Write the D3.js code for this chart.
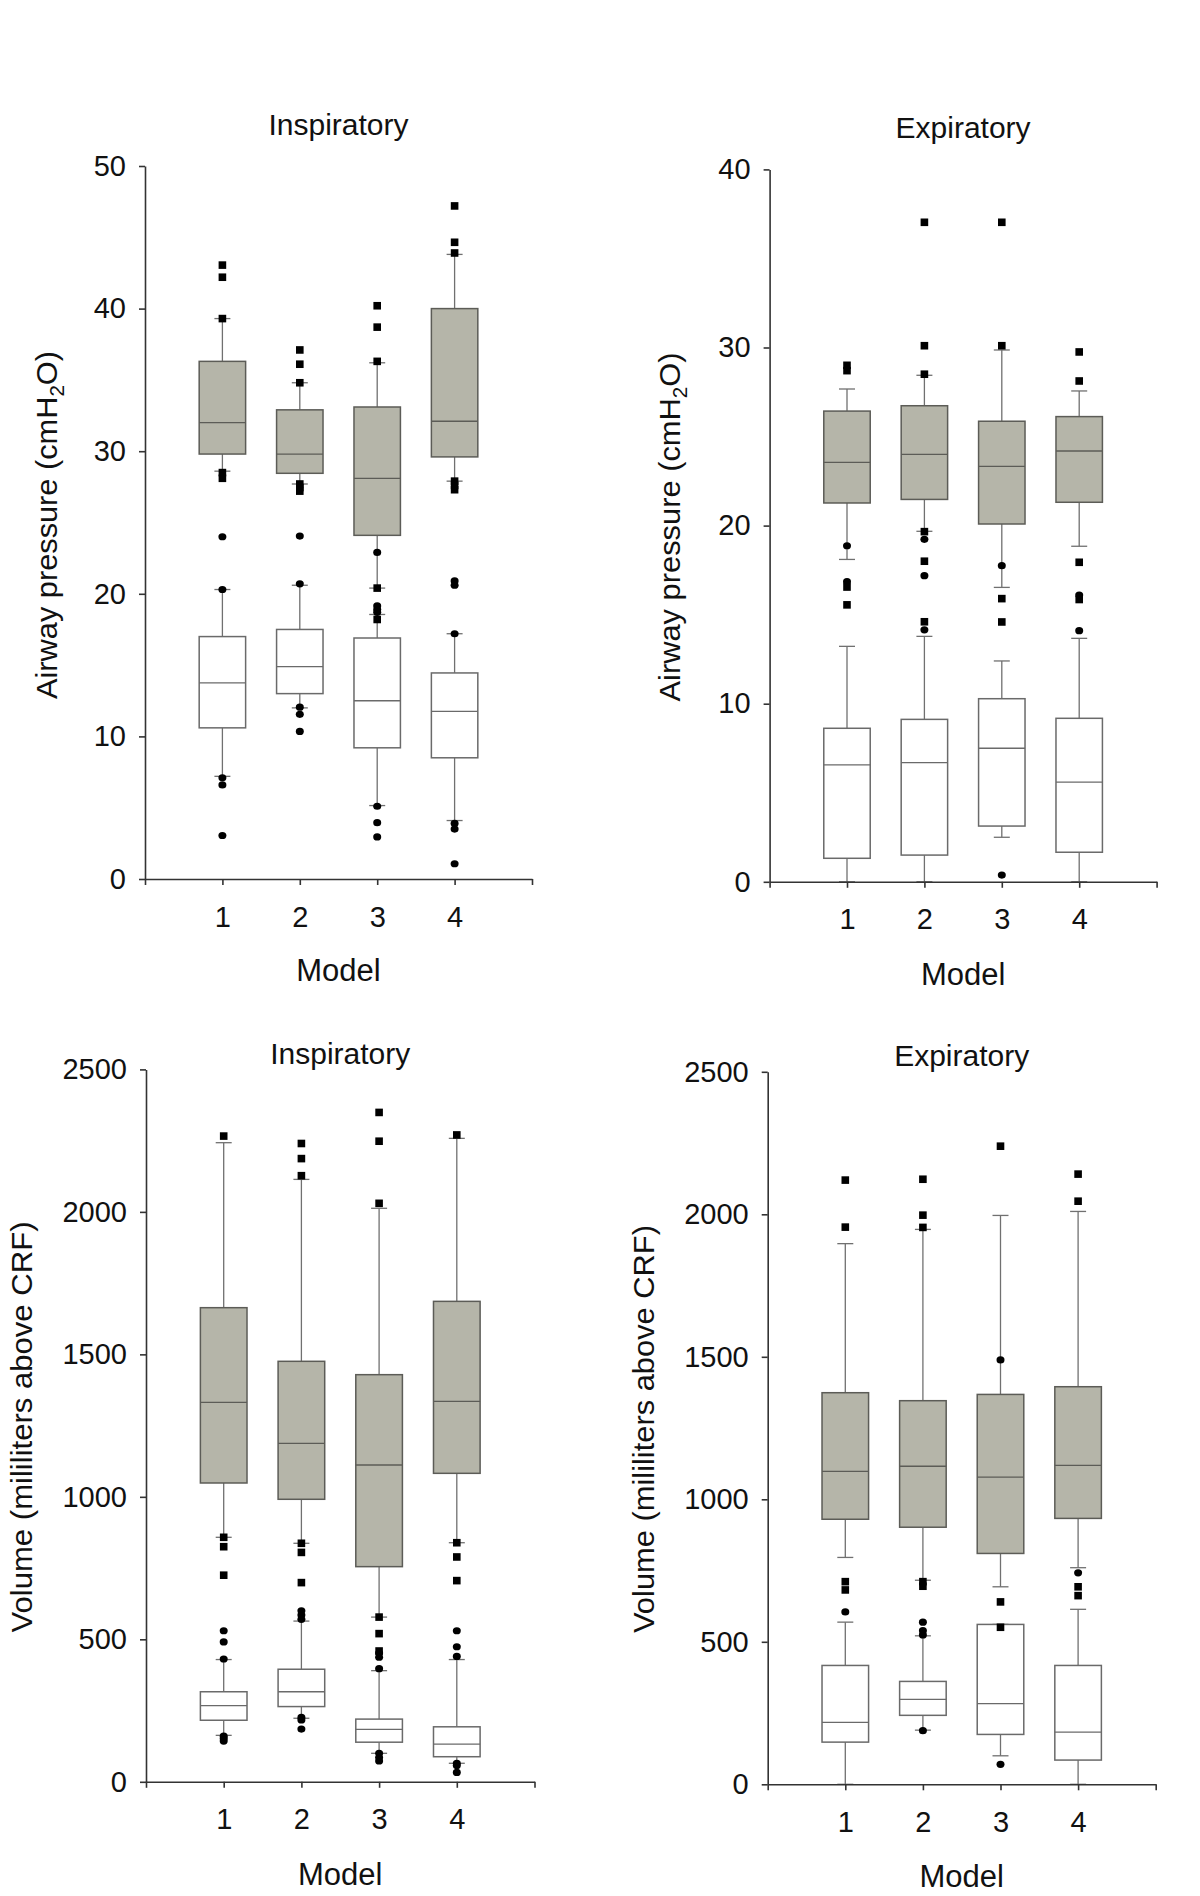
<!DOCTYPE html>
<html>
<head>
<meta charset="utf-8">
<script src="https://cdn.jsdelivr.net/npm/d3@7"></script>
<style>
  body { margin: 0; background: #fff; }
  svg text { font-family: "Liberation Sans", Arial, sans-serif; fill: #111; }
</style>
</head>
<body>
<div id="chart"></div>
<script>
/* four box plot panels: airway pressure and volume, per model */

var models = [1, 2, 3, 4];

// box stats are [lower whisker, q1, median, q3, upper whisker] for each model
// grey boxes have square outliers, white boxes have round outliers

// top left: inspiratory airway pressure
var inspPressureTicks = [0, 10, 20, 30, 40, 50];
var inspPressureGrey = [[28.6, 29.8, 32.0, 36.3, 39.3], [27.7, 28.45, 29.8, 32.9, 34.8],
                        [20.4, 24.1, 28.1, 33.1, 36.2], [27.9, 29.6, 32.1, 40.0, 43.8]];
var inspPressureGreyOut = [[43.05, 42.2, 39.3, 28.5, 28.1], [37.1, 36.1, 34.8, 27.7, 27.45, 27.2],
                           [40.2, 38.7, 36.3, 20.4, 18.2], [47.2, 44.65, 43.9, 27.9, 27.6, 27.3]];
var inspPressureWhite = [[7.2, 10.6, 13.75, 17.0, 20.3], [12.0, 13.0, 14.9, 17.5, 20.6],
                         [5.15, 9.2, 12.5, 16.9, 18.55], [4.1, 8.5, 11.75, 14.45, 17.2]];
var inspPressureWhiteOut = [[24.0, 20.3, 7.1, 6.6, 3.05], [24.05, 20.7, 12.05, 11.55, 10.35],
                            [22.9, 19.15, 18.9, 18.7, 5.1, 3.95, 2.95], [20.9, 20.6, 17.2, 3.9, 3.5, 1.07]];

// top right: expiratory airway pressure
var expPressureTicks = [0, 10, 20, 30, 40];
var expPressureGrey = [[18.1, 21.27, 23.55, 26.43, 27.67], [19.68, 21.47, 24.0, 26.73, 28.44],
                       [16.53, 20.09, 23.33, 25.86, 29.86], [18.84, 21.31, 24.19, 26.12, 27.56]];
var expPressureGreyOut = [[29.0, 28.7, 16.55, 15.55], [37.03, 30.1, 28.5, 19.66, 18.0, 14.6],
                          [37.03, 30.1, 15.9, 14.59], [29.75, 28.12, 17.94, 15.85]];
var expPressureWhite = [[0, 1.32, 6.56, 8.62, 13.22], [0, 1.5, 6.69, 9.12, 13.78],
                        [2.5, 3.13, 7.5, 10.28, 12.4], [0, 1.66, 5.6, 9.18, 13.67]];
var expPressureWhiteOut = [[18.87, 16.85], [19.23, 17.19, 14.15], [17.75, 0.38], [16.1, 14.1]];

// bottom left: inspiratory volume
var volumeTicks = [0, 500, 1000, 1500, 2000, 2500];
var inspVolumeGrey = [[858, 1048.6, 1331.8, 1663.8, 2242.8], [837, 991.4, 1187.9, 1475.6, 2114],
                      [578, 755, 1111.7, 1428.7, 2012.6], [839, 1082.5, 1335, 1686, 2258]];
var inspVolumeGreyOut = [[2266, 858, 825, 725], [2240, 2187, 2127, 837, 805, 699],
                         [2349, 2248, 2030, 578, 520, 459], [2270, 839, 789, 706]];
var inspVolumeWhite = [[163, 216, 267, 316, 429], [223, 264, 316, 395, 564],
                       [100, 139, 184, 220, 390], [65, 88, 132, 193, 429]];
var inspVolumeWhiteOut = [[530, 491, 431, 160, 152, 143], [600, 585, 570, 226, 217, 185],
                          [452, 437, 397, 100, 85, 73], [530, 474, 440, 65, 57, 33]];

// bottom right: expiratory volume
var expVolumeGrey = [[796, 930, 1098, 1374, 1897], [716, 902, 1116, 1346, 1947],
                     [693, 810, 1078, 1368, 1996], [760, 933, 1119, 1395, 2010]];
var expVolumeGreyOut = [[2120, 1955, 711, 682], [2123, 1997, 1954, 711, 695],
                        [2239, 640, 551], [2141, 2046, 693, 662]];
var expVolumeWhite = [[0, 148, 217, 417, 569], [190, 242, 298, 361, 521],
                      [100, 175, 283, 561, 561], [0, 85, 183, 417, 614]];
var expVolumeWhiteOut = [[605], [569, 539, 524, 188], [1489, 70], [742]];

var svg = d3.select("#chart").append("svg")
            .attr("width", 1200)
            .attr("height", 1896);

var greyFill = "#b5b5a9";

function drawPanel(p) {
  var g = svg.append("g");
  var x = d3.scaleLinear().domain([0, 5]).range([p.left, p.right]);
  var y = d3.scaleLinear().domain([0, p.ticks[p.ticks.length - 1]]).range([p.bottom, p.top]);
  var half = x(0.3) - x(0);

  function boxes(stats, outliers, fill, stroke, shape) {
    var s = g.append("g");
    stats.forEach(function(d, i) {
      var cx = x(models[i]);
      // whiskers
      s.append("line").attr("x1", cx).attr("x2", cx).attr("y1", y(d[0])).attr("y2", y(d[1]))
        .attr("stroke", "#707070").attr("stroke-width", 1.3);
      s.append("line").attr("x1", cx).attr("x2", cx).attr("y1", y(d[3])).attr("y2", y(d[4]))
        .attr("stroke", "#707070").attr("stroke-width", 1.3);
      [d[0], d[4]].forEach(function(v) {
        s.append("line").attr("x1", cx - 8).attr("x2", cx + 8).attr("y1", y(v)).attr("y2", y(v))
          .attr("stroke", "#707070").attr("stroke-width", 1.3);
      });
      s.append("rect")
        .attr("x", cx - half).attr("width", half * 2)
        .attr("y", y(d[3])).attr("height", y(d[1]) - y(d[3]))
        .attr("fill", fill).attr("stroke", stroke).attr("stroke-width", 1.5);
      s.append("line").attr("x1", cx - half).attr("x2", cx + half)
        .attr("y1", y(d[2])).attr("y2", y(d[2]))
        .attr("stroke", stroke).attr("stroke-width", 1.3);
    });
    return function drawOutliers() {
      outliers.forEach(function(vals, i) {
        var cx = x(models[i]);
        vals.forEach(function(v) {
          if (shape == "square") {
            g.append("rect").attr("x", cx - 3.8).attr("y", y(v) - 3.8)
              .attr("width", 7.6).attr("height", 7.6).attr("fill", "#000");
          } else {
            g.append("ellipse").attr("cx", cx).attr("cy", y(v))
              .attr("rx", 4).attr("ry", 3.6).attr("fill", "#000");
          }
        });
      });
    };
  }

  var greyOut = boxes(p.grey, p.greyOut, greyFill, "#5c5c57", "square");
  var whiteOut = boxes(p.white, p.whiteOut, "#fff", "#6a6a6a", "circle");

  // axes
  var yAxis = g.append("g").attr("transform", "translate(" + x(0) + ",0)")
    .call(d3.axisLeft(y).tickValues(p.ticks).tickSize(6).tickSizeOuter(0).tickPadding(13)
      .tickFormat(d3.format("d")));
  var xAxis = g.append("g").attr("transform", "translate(0," + y(0) + ")")
    .call(d3.axisBottom(x).tickValues([0, 1, 2, 3, 4, 5]).tickSize(6).tickSizeOuter(0).tickPadding(21)
      .tickFormat(function(d) { return (d >= 1 && d <= 4) ? d : ""; }));
  [yAxis, xAxis].forEach(function(a) {
    a.selectAll("path, line").attr("stroke", "#333").attr("stroke-width", 1.6);
    a.selectAll("text").attr("font-size", 29).attr("fill", "#111")
      .style("font-family", "'Liberation Sans', Arial, sans-serif");
  });

  greyOut();
  whiteOut();

  // titles and labels
  g.append("text").attr("x", (p.left + p.right) / 2).attr("y", p.titleY)
    .attr("text-anchor", "middle").attr("font-size", 30).text(p.title);
  g.append("text").attr("x", (p.left + p.right) / 2).attr("y", p.modelY)
    .attr("text-anchor", "middle").attr("font-size", 31).text("Model");

  var lab = g.append("text")
    .attr("transform", "translate(" + p.labelX + "," + p.labelY + ") rotate(-90)")
    .attr("text-anchor", "middle").attr("font-size", 30)
    .attr("textLength", p.labelLen).attr("lengthAdjust", "spacingAndGlyphs");
  if (p.pressure) {
    lab.append("tspan").text("Airway pressure (cmH");
    lab.append("tspan").attr("font-size", 20).attr("dy", 7).text("2");
    lab.append("tspan").attr("dy", -7).text("O)");
  } else {
    lab.text("Volume (mililiters above CRF)");
  }
}

drawPanel({ left: 145, right: 532, top: 166, bottom: 879, ticks: inspPressureTicks,
            grey: inspPressureGrey, greyOut: inspPressureGreyOut,
            white: inspPressureWhite, whiteOut: inspPressureWhiteOut,
            title: "Inspiratory", titleY: 135, modelY: 981,
            labelX: 57, labelY: 525, labelLen: 348, pressure: true });

drawPanel({ left: 769.6, right: 1156.6, top: 169.4, bottom: 881.8, ticks: expPressureTicks,
            grey: expPressureGrey, greyOut: expPressureGreyOut,
            white: expPressureWhite, whiteOut: expPressureWhiteOut,
            title: "Expiratory", titleY: 138, modelY: 985,
            labelX: 680, labelY: 527, labelLen: 349, pressure: true });

drawPanel({ left: 146, right: 534.5, top: 1069.4, bottom: 1781.8, ticks: volumeTicks,
            grey: inspVolumeGrey, greyOut: inspVolumeGreyOut,
            white: inspVolumeWhite, whiteOut: inspVolumeWhiteOut,
            title: "Inspiratory", titleY: 1064, modelY: 1885,
            labelX: 32, labelY: 1427, labelLen: 411, pressure: false });

drawPanel({ left: 767.7, right: 1155.7, top: 1071.8, bottom: 1784.3, ticks: volumeTicks,
            grey: expVolumeGrey, greyOut: expVolumeGreyOut,
            white: expVolumeWhite, whiteOut: expVolumeWhiteOut,
            title: "Expiratory", titleY: 1066, modelY: 1887,
            labelX: 654, labelY: 1429, labelLen: 408, pressure: false });
</script>
</body>
</html>
